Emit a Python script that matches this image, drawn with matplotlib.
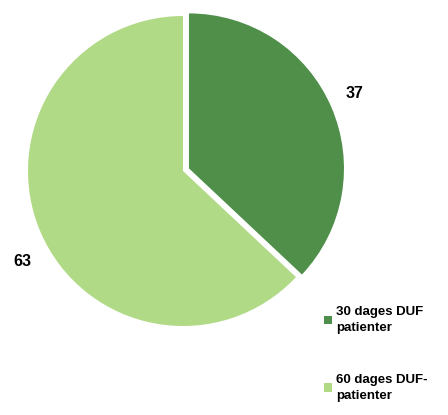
import matplotlib.pyplot as plt
from matplotlib.patches import Patch

labels = ['30 dages DUF\npatienter', '60 dages DUF-\npatienter']
values = [37, 63]
colors = ['#4f8f4a', '#b1da86']

fig = plt.figure(figsize=(4.48, 4.15), dpi=100)
ax = fig.add_axes([0, 0, 1, 1])

# explode is in data units here (radius is 155)
wedges, _ = ax.pie(values, colors=colors, startangle=90, counterclock=False,
                   center=(183, 244), radius=155, explode=[6.5, 0],
                   wedgeprops=dict(linewidth=0))
ax.set_xlim(0, 448)
ax.set_ylim(0, 415)
ax.set_aspect('equal')
ax.axis('off')

font = ['Liberation Sans Narrow', 'Liberation Sans', 'DejaVu Sans']
ax.text(355, 322, str(values[0]), fontsize=11.5, fontweight='bold', family=font,
        ha='center', va='center')
ax.text(22, 153, str(values[1]), fontsize=11.5, fontweight='bold', family=font,
        ha='center', va='center')

handles = [Patch(facecolor=c, edgecolor='none') for c in colors]
leg = ax.legend(handles, labels, loc='upper left', bbox_to_anchor=(324/448, 1 - 306/415),
                frameon=False, prop={'family': font, 'weight': 'bold', 'size': 9.5},
                handlelength=0.6, handleheight=0.6, handletextpad=0.3,
                labelspacing=3.0, borderaxespad=0, borderpad=0)
for t in leg.get_texts():
    t.set_linespacing(1.45)

fig.savefig('out.png', dpi=100)
